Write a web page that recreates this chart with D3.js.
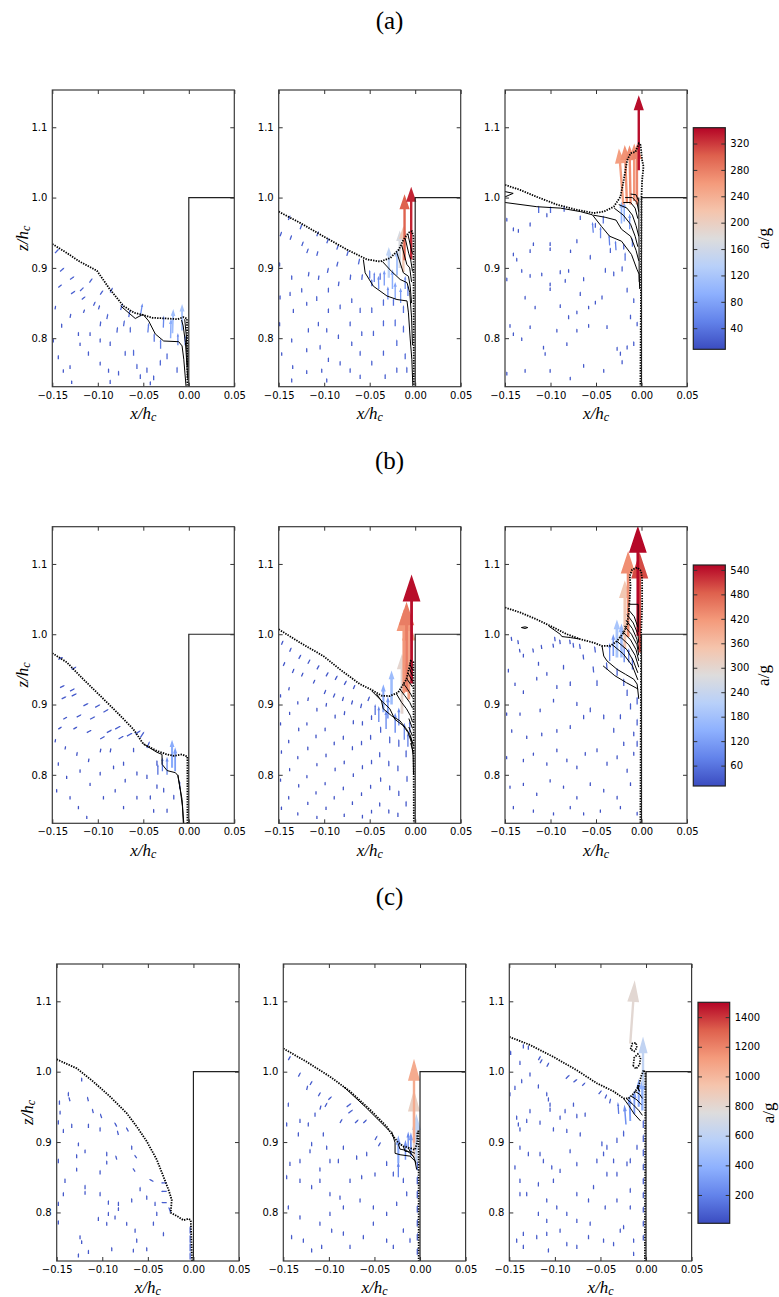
<!DOCTYPE html>
<html><head><meta charset="utf-8">
<script src="https://cdn.jsdelivr.net/npm/d3@7"></script>
<style>body{margin:0;background:#fff}</style>
</head><body>
<svg id="fig" width="779" height="1297" xmlns="http://www.w3.org/2000/svg"></svg>
<script>
// ---------------- shared axis data ----------------
const xTicks = [-0.15, -0.10, -0.05, 0.00, 0.05];
const zTicks = [0.8, 0.9, 1.0, 1.1];
const xDomain = [-0.15, 0.05];
const zDomain = [0.731, 1.153];
const rowTitles = ["(a)", "(b)", "(c)"];
const cbDomainA = [8, 344],  cbTicksA = [40, 80, 120, 160, 200, 240, 280, 320];
const cbDomainB = [10, 552], cbTicksB = [60, 120, 180, 240, 300, 360, 420, 480, 540];
const cbDomainC = [9, 1500], cbTicksC = [200, 400, 600, 800, 1000, 1200, 1400];
const stepWall = [[0.0, 0.731], [0.0, 1.0], [0.05, 1.0]];
const coolwarm = ["#3b4cc0","#6282ea","#8db0fe","#b8d0f9","#dddcdc","#f5c4ac","#f49a7b","#de604d","#b40426"];

// ---------------- row (a) ----------------
const surfA1 = [[-0.150,0.934],[-0.135,0.922],[-0.120,0.909],[-0.101,0.896],[-0.087,0.870],[-0.072,0.846],[-0.060,0.836],[-0.053,0.834],[-0.040,0.829],[-0.024,0.828],[-0.012,0.827],[-0.006,0.830],[-0.002,0.828],[-0.0015,0.731]];
const contA1 = [
 [[-0.075,0.846],[-0.0588,0.828],[-0.0504,0.834],[-0.0441,0.8245],[-0.0368,0.806],[-0.0276,0.796],[-0.0111,0.795],[-0.0074,0.789],[-0.0055,0.770],[-0.003,0.731]],
 [[-0.008,0.826],[-0.0062,0.8175],[-0.0037,0.794],[-0.0011,0.742]],
 [[-0.0045,0.827],[-0.0025,0.800],[-0.0015,0.760]]];
const vecA1 = [
 [-0.147,0.921,18,20],[-0.1415,0.895,20,17],[-0.1305,0.8835,20,14],[-0.1434,0.872,17,14],[-0.1294,0.863,20,14],[-0.1195,0.867,17,17],[-0.1092,0.879,14,20],[-0.1176,0.855,17,14],[-0.0974,0.862,14,20],[-0.0864,0.865,12,23],[-0.1048,0.846,9,20],[-0.0993,0.841,6,20],[-0.1158,0.836,6,17],[-0.1305,0.829,4,20],[-0.1397,0.815,0,20],[-0.147,0.841,3,17],[-0.1489,0.794,0,17],[-0.1434,0.770,0,20],[-0.1379,0.751,0,17],[-0.1305,0.756,0,20],[-0.1213,0.803,0,20],[-0.1195,0.789,0,17],[-0.1103,0.775,0,22],[-0.1085,0.803,0,20],[-0.0974,0.817,3,24],[-0.0901,0.827,5,26],[-0.0974,0.794,0,20],[-0.0864,0.789,0,22],[-0.0974,0.761,0,20],[-0.0882,0.751,0,20],[-0.0790,0.808,3,26],[-0.0717,0.817,4,28],[-0.0643,0.808,0,28],[-0.0607,0.775,0,30],[-0.0570,0.756,0,26],[-0.0533,0.742,0,24],[-0.0699,0.775,0,24],[-0.0772,0.747,0,22],[-0.0460,0.751,0,26],[-0.0386,0.740,0,24],[-0.0313,0.761,0,28],[-0.0239,0.770,0,30],[-0.0129,0.751,0,28],[-0.1287,0.735,0,17],[-0.0864,0.735,0,20],[-0.0423,0.733,0,20],
 [-0.075,0.840,10,32],[-0.066,0.830,6,34],[-0.045,0.808,4,45],[-0.038,0.795,0,40],[-0.031,0.785,0,45],[-0.028,0.815,2,55],[-0.012,0.790,0,55],[-0.004,0.790,0,45],
 [-0.0533,0.831,10,60],[-0.020,0.800,2,90],[-0.018,0.807,4,110],[-0.0074,0.811,0,120]];

const surfA2 = [[-0.150,0.980],[-0.1265,0.964],[-0.101,0.945],[-0.075,0.926],[-0.053,0.912],[-0.0385,0.909],[-0.0275,0.914],[-0.018,0.926],[-0.013,0.940],[-0.0074,0.950],[-0.0037,0.952],[-0.0019,0.945],[-0.0015,0.731]];
const contA2 = [
 [[-0.057,0.912],[-0.055,0.893],[-0.046,0.874],[-0.031,0.860],[-0.020,0.855],[-0.009,0.853],[-0.0074,0.836],[-0.0055,0.799],[-0.0037,0.770],[-0.0026,0.732]],
 [[-0.036,0.909],[-0.026,0.895],[-0.0165,0.8835],[-0.009,0.879],[-0.006,0.865],[-0.004,0.830],[-0.003,0.790]],
 [[-0.020,0.921],[-0.013,0.893],[-0.0074,0.888],[-0.0055,0.874],[-0.004,0.850]],
 [[-0.015,0.933],[-0.0092,0.905],[-0.006,0.900],[-0.004,0.880]],
 [[-0.011,0.942],[-0.007,0.920],[-0.005,0.912],[-0.003,0.895]],
 [[-0.008,0.948],[-0.005,0.930],[-0.003,0.920]]];
const vecA2 = [
 [-0.1485,0.945,8,22],[-0.149,0.902,0,20],[-0.1485,0.855,0,20],[-0.149,0.817,0,20],[-0.1467,0.775,0,17],[-0.1357,0.737,0,20],
 [-0.1394,0.968,9,22],[-0.1375,0.940,8,22],[-0.1357,0.883,0,22],[-0.1375,0.860,0,20],[-0.1339,0.836,0,20],[-0.1357,0.794,0,20],[-0.1346,0.756,0,20],
 [-0.1265,0.955,9,24],[-0.1247,0.931,8,22],[-0.1192,0.921,8,22],[-0.1174,0.888,3,22],[-0.1247,0.865,0,22],[-0.1192,0.846,0,20],[-0.1174,0.808,0,22],[-0.1192,0.780,0,20],[-0.1192,0.749,0,20],
 [-0.1082,0.945,9,24],[-0.1082,0.917,6,24],[-0.1064,0.883,3,22],[-0.1082,0.853,0,24],[-0.1064,0.817,0,22],[-0.1045,0.784,0,22],[-0.1027,0.751,0,20],
 [-0.0972,0.935,9,24],[-0.0965,0.893,5,24],[-0.0954,0.865,0,24],[-0.0954,0.836,0,22],[-0.0972,0.808,0,22],[-0.0954,0.766,0,22],[-0.0972,0.737,0,20],
 [-0.0862,0.926,9,26],[-0.0862,0.902,6,24],[-0.0844,0.874,3,24],[-0.0825,0.841,0,24],[-0.0844,0.799,0,22],[-0.0825,0.761,0,22],
 [-0.0752,0.917,8,26],[-0.0715,0.883,3,26],[-0.0697,0.850,0,24],[-0.0715,0.817,0,24],[-0.0697,0.789,0,22],[-0.0715,0.751,0,22],
 [-0.0624,0.905,6,28],[-0.0587,0.883,3,28],[-0.0605,0.836,0,26],[-0.0587,0.803,0,24],[-0.0605,0.775,0,24],[-0.0605,0.742,0,22],
 [-0.0477,0.874,0,32],[-0.0477,0.836,0,28],[-0.0459,0.803,0,26],[-0.0477,0.761,0,24],
 [-0.0385,0.883,0,34],[-0.0349,0.846,0,32],[-0.0349,0.817,0,30],[-0.0349,0.775,0,26],[-0.033,0.742,0,24],
 [-0.0239,0.846,0,36],[-0.022,0.817,0,34],[-0.0202,0.789,0,30],[-0.0202,0.751,0,26],
 [-0.0129,0.836,0,36],[-0.0129,0.808,0,34],[-0.011,0.770,0,30],[-0.0092,0.751,0,28],
 [-0.050,0.885,0,40],[-0.045,0.880,0,45],[-0.040,0.870,-2,60],[-0.034,0.875,0,70],[-0.030,0.855,0,60],[-0.022,0.855,0,80],[-0.016,0.850,0,70],[-0.011,0.870,0,60],[-0.008,0.860,0,50],[-0.025,0.870,0,90],
 [-0.020,0.889,0,120],[-0.029,0.886,0,140],[-0.017,0.900,0,170],[-0.013,0.894,0,210],[-0.0117,0.911,0,300],[-0.0044,0.912,0,330]];

const surfA3 = [[-0.150,1.018],[-0.1335,1.011],[-0.115,1.001],[-0.093,0.990],[-0.071,0.9825],[-0.0526,0.978],[-0.0415,0.980],[-0.0305,0.987],[-0.0232,1.001],[-0.0195,1.025],[-0.0158,1.053],[-0.0121,1.063],[-0.0066,1.065],[-0.0029,1.077],[-0.001,1.0745],[0.0007,1.053],[0.0022,1.044],[0.0007,1.025],[0.0,1.001],[-0.0012,0.731]];
const contA3 = [
 [[-0.150,1.0085],[-0.141,1.006],[-0.150,1.001]],
 [[-0.150,0.993],[-0.115,0.987],[-0.089,0.985],[-0.067,0.980],[-0.054,0.9755],[-0.044,0.959],[-0.035,0.945],[-0.022,0.938],[-0.011,0.919],[-0.005,0.898],[-0.0026,0.891],[-0.002,0.870]],
 [[-0.053,0.975],[-0.040,0.972],[-0.028,0.968],[-0.022,0.955],[-0.012,0.945],[-0.006,0.925],[-0.003,0.910]],
 [[-0.030,0.985],[-0.020,0.975],[-0.012,0.962],[-0.007,0.945],[-0.004,0.930]],
 [[-0.025,0.990],[-0.016,0.985],[-0.010,0.975],[-0.006,0.960],[-0.003,0.945]],
 [[-0.020,0.993],[-0.012,0.993],[-0.007,0.985],[-0.004,0.970]],
 [[-0.018,1.000],[-0.010,1.000],[-0.005,0.993],[-0.003,0.980]],
 [[-0.012,1.005],[-0.006,1.004],[-0.003,0.995]],
 [[-0.003,1.000],[-0.0025,0.880]]];
const vecA3 = [
 [-0.148,0.966,0,18],[-0.1408,0.952,0,20],[-0.1353,0.950,0,18],[-0.1224,0.959,0,20],[-0.1408,0.9165,0,18],[-0.1371,0.909,0,18],[-0.1224,0.921,0,20],[-0.1188,0.931,0,18],[-0.1004,0.931,0,20],[-0.1004,0.924,0,18],[-0.104,0.972,0,20],[-0.1316,0.893,0,18],[-0.1224,0.886,0,18],[-0.1096,0.888,0,18],[-0.0893,0.891,0,20],[-0.0801,0.893,0,18],[-0.1004,0.874,0,18],[-0.0838,0.879,0,18],[-0.0636,0.881,0,20],[-0.148,0.881,0,18],
 [-0.1445,0.815,0,18],[-0.1408,0.803,0,18],[-0.1316,0.796,0,18],[-0.1224,0.813,0,18],[-0.1169,0.841,0,18],[-0.1279,0.855,0,18],[-0.1004,0.867,0,18],[-0.0893,0.843,0,18],[-0.0801,0.827,0,20],[-0.0710,0.834,0,18],[-0.0673,0.860,0,20],[-0.0581,0.841,0,18],[-0.0507,0.848,0,18],[-0.0434,0.855,0,20],[-0.093,0.808,0,18],[-0.1077,0.784,0,18],[-0.1059,0.775,0,18],[-0.082,0.789,0,18],[-0.071,0.808,0,18],[-0.0581,0.815,0,18],[-0.0379,0.813,0,20],[-0.0636,0.758,0,18],[-0.0783,0.740,0,18],[-0.1004,0.751,0,18],[-0.1279,0.751,0,18],[-0.148,0.747,0,18],[-0.0268,0.782,0,20],[-0.0232,0.775,0,20],[-0.0158,0.784,0,20],[-0.0415,0.751,0,18],[-0.0213,0.763,0,20],[-0.0085,0.789,0,22],[-0.0121,0.827,0,22],[-0.0158,0.865,0,24],[-0.0213,0.895,0,26],[-0.0195,0.926,0,28],[-0.0085,0.850,0,24],[-0.0048,0.817,0,22],[-0.0397,0.893,0,24],[-0.0305,0.888,0,24],[-0.0342,0.921,0,26],[-0.0563,0.912,0,22],[-0.071,0.935,0,20],[-0.078,0.921,0,18],[-0.0673,0.968,0,22],[-0.0507,0.957,0,24],
 [-0.113,0.978,0,34],[-0.100,0.978,0,32],[-0.085,0.980,0,28],[-0.042,0.963,0,38],[-0.053,0.950,-4,50],[-0.045,0.942,0,55],[-0.035,0.932,-3,50],[-0.028,0.925,-3,45],[-0.018,0.910,0,40],[-0.010,0.930,0,40],[-0.013,0.955,0,70],[-0.019,0.966,0,90],[-0.022,0.963,0,100],
 [-0.020,0.990,-20,255],[-0.016,0.992,-10,265],[-0.012,0.990,-5,270],[-0.008,0.995,0,262],[-0.005,0.990,0,275],[-0.003,1.039,0,340]];

// ---------------- row (b) ----------------
const surfB1 = [[-0.150,0.973],[-0.134,0.960],[-0.116,0.936],[-0.097,0.912],[-0.079,0.889],[-0.061,0.865],[-0.050,0.844],[-0.035,0.834],[-0.024,0.829],[-0.0165,0.827],[-0.0074,0.829],[-0.0037,0.827],[-0.0015,0.826],[-0.0015,0.731]];
const contB1 = [
 [[-0.050,0.844],[-0.035,0.832],[-0.0294,0.829],[-0.0294,0.815],[-0.0239,0.806],[-0.0147,0.803],[-0.0121,0.799],[-0.0074,0.765],[-0.0055,0.731]],
 [[-0.012,0.800],[-0.0095,0.780],[-0.0070,0.755],[-0.0060,0.731]]];
const vecB1 = [
 [-0.1434,0.964,24,13],[-0.1287,0.950,24,13],[-0.1415,0.924,24,12],[-0.1305,0.919,24,13],[-0.1397,0.908,24,12],[-0.1287,0.912,26,13],[-0.1158,0.898,26,14],[-0.1029,0.896,26,14],[-0.1232,0.882,24,13],[-0.1085,0.879,26,14],[-0.0938,0.889,26,15],[-0.1379,0.879,20,12],[-0.1434,0.865,18,12],[-0.1268,0.865,20,12],[-0.1121,0.860,24,13],[-0.0901,0.860,26,14],[-0.0974,0.851,24,13],[-0.0809,0.865,28,16],[-0.0772,0.851,26,15],[-0.068,0.855,28,16],[-0.0588,0.858,28,18],[-0.0533,0.853,20,30],
 [-0.147,0.846,3,18],[-0.1434,0.813,0,18],[-0.1452,0.775,0,18],[-0.136,0.836,3,18],[-0.1342,0.794,0,18],[-0.1305,0.765,0,18],[-0.1232,0.827,3,20],[-0.1195,0.803,0,18],[-0.1213,0.751,0,18],[-0.1103,0.818,3,20],[-0.1085,0.784,0,18],[-0.1121,0.737,0,18],[-0.0974,0.832,4,20],[-0.0974,0.799,0,20],[-0.0938,0.765,0,18],[-0.0864,0.832,4,22],[-0.0827,0.808,0,20],[-0.0809,0.775,0,18],[-0.0717,0.813,0,22],[-0.0699,0.789,0,20],[-0.0717,0.751,0,18],[-0.0607,0.832,0,24],[-0.057,0.799,0,22],[-0.057,0.765,0,20],[-0.046,0.794,0,24],[-0.0423,0.765,0,22],[-0.0386,0.746,0,20],[-0.035,0.813,0,28],[-0.035,0.780,0,24],[-0.0276,0.775,0,24],[-0.0239,0.746,0,22],[-0.0165,0.765,0,24],
 [-0.046,0.838,14,34],[-0.010,0.780,0,40],[-0.034,0.800,0,55],[-0.029,0.805,0,70],[-0.0239,0.800,0,90],[-0.015,0.805,0,120],[-0.0184,0.810,0,140]];

const surfB2 = [[-0.150,1.007],[-0.1265,0.988],[-0.101,0.969],[-0.0827,0.950],[-0.0608,0.929],[-0.048,0.921],[-0.037,0.9125],[-0.028,0.912],[-0.0188,0.917],[-0.0096,0.936],[-0.0049,0.962],[-0.0019,0.960],[-0.0015,0.731]];
const contB2 = [
 [[-0.048,0.9196],[-0.0352,0.903],[-0.0279,0.894],[-0.0224,0.879],[-0.0133,0.870],[-0.0078,0.860],[-0.0041,0.846],[-0.0023,0.827],[-0.0018,0.800]],
 [[-0.0425,0.915],[-0.037,0.905],[-0.0352,0.894],[-0.026,0.884],[-0.0169,0.877],[-0.0096,0.865],[-0.0052,0.856],[-0.003,0.845]],
 [[-0.0205,0.915],[-0.015,0.903],[-0.0096,0.894],[-0.0052,0.884],[-0.003,0.875]],
 [[-0.0169,0.922],[-0.0114,0.9125],[-0.006,0.903],[-0.003,0.895]],
 [[-0.013,0.930],[-0.009,0.923],[-0.005,0.915],[-0.003,0.910]],
 [[-0.0095,0.937],[-0.003,0.925]],[[-0.008,0.945],[-0.003,0.933]],[[-0.0065,0.952],[-0.003,0.941]],[[-0.006,0.958],[-0.003,0.949]],
 [[-0.007,0.880],[-0.003,0.866]],[[-0.007,0.868],[-0.003,0.855]],[[-0.006,0.856],[-0.002,0.842]],[[-0.005,0.845],[-0.002,0.832]]];
const vecB2 = [
 [-0.147,0.985,9,22],[-0.138,0.975,9,22],[-0.128,0.965,12,22],[-0.118,0.958,12,22],[-0.108,0.950,12,22],[-0.098,0.940,12,22],[-0.088,0.935,12,22],[-0.078,0.928,12,22],[-0.068,0.922,9,22],[-0.145,0.955,9,20],[-0.135,0.945,9,22],[-0.125,0.940,9,20],[-0.112,0.930,9,20],[-0.100,0.915,9,22],[-0.090,0.910,9,22],[-0.080,0.905,6,22],[-0.070,0.900,6,22],[-0.060,0.895,6,24],[-0.052,0.905,9,24],
 [-0.148,0.910,0,18],[-0.148,0.870,0,18],[-0.147,0.830,0,18],[-0.148,0.790,0,18],[-0.147,0.750,0,18],
 [-0.139,0.920,3,18],[-0.138,0.885,0,18],[-0.139,0.845,0,18],[-0.138,0.805,0,18],[-0.139,0.765,0,18],
 [-0.129,0.900,0,18],[-0.128,0.862,0,20],[-0.129,0.822,0,18],[-0.128,0.782,0,18],[-0.129,0.742,0,18],
 [-0.118,0.905,3,20],[-0.119,0.870,0,18],[-0.118,0.835,0,20],[-0.119,0.795,0,18],[-0.118,0.757,0,18],
 [-0.108,0.890,0,20],[-0.109,0.852,0,20],[-0.108,0.812,0,18],[-0.109,0.772,0,18],[-0.108,0.737,0,18],
 [-0.098,0.897,3,20],[-0.099,0.862,0,20],[-0.098,0.825,0,20],[-0.099,0.785,0,18],[-0.098,0.750,0,18],
 [-0.088,0.880,0,22],[-0.089,0.842,0,20],[-0.088,0.805,0,20],[-0.089,0.765,0,18],
 [-0.078,0.885,3,22],[-0.079,0.850,0,22],[-0.078,0.815,0,20],[-0.079,0.778,0,20],[-0.078,0.740,0,18],
 [-0.068,0.872,0,22],[-0.069,0.835,0,22],[-0.068,0.797,0,20],[-0.069,0.757,0,20],
 [-0.058,0.870,0,24],[-0.059,0.842,0,24],[-0.058,0.808,0,22],[-0.059,0.770,0,20],[-0.058,0.738,0,20],
 [-0.048,0.878,0,26],[-0.049,0.850,0,26],[-0.048,0.815,0,24],[-0.049,0.780,0,22],[-0.048,0.745,0,20],
 [-0.038,0.860,0,32],[-0.039,0.825,0,28],[-0.038,0.790,0,24],[-0.039,0.755,0,22],
 [-0.028,0.845,0,36],[-0.029,0.812,0,30],[-0.028,0.778,0,26],[-0.029,0.745,0,22],
 [-0.018,0.840,0,38],[-0.019,0.805,0,32],[-0.018,0.770,0,28],[-0.019,0.740,0,24],
 [-0.010,0.825,0,38],[-0.009,0.790,0,32],[-0.010,0.755,0,28],
 [-0.044,0.885,0,55],[-0.040,0.875,0,80],[-0.032,0.865,0,95],[-0.030,0.880,0,110],[-0.022,0.860,0,100],[-0.018,0.870,0,90],[-0.012,0.850,0,85],[-0.008,0.840,0,70],[-0.006,0.860,0,60],
 [-0.035,0.889,0,140],[-0.026,0.900,0,170],[-0.0145,0.887,0,300],[-0.007,0.907,0,400],[-0.0125,0.916,0,420],[-0.0095,0.918,0,450],[-0.004,0.930,0,545]];

const surfB3 = [[-0.150,1.038],[-0.1335,1.031],[-0.115,1.021],[-0.1004,1.012],[-0.082,1.000],[-0.0673,0.993],[-0.0526,0.988],[-0.0434,0.9834],[-0.0342,0.9834],[-0.0268,0.9905],[-0.0195,1.0024],[-0.0158,1.014],[-0.014,1.031],[-0.0121,1.069],[-0.0129,1.083],[-0.0103,1.092],[-0.0048,1.095],[-0.0004,1.090],[0.0007,1.078],[0.0007,1.040],[-0.0004,1.002],[-0.0012,0.731]];
const contB3 = [
 [[-0.1022,1.0118],[-0.0893,1.000],[-0.0875,0.9967],[-0.0783,0.9953],[-0.0673,0.993]],
 [[-0.132,1.0095],[-0.128,1.0105],[-0.125,1.0095],[-0.128,1.0082],[-0.132,1.0095]],
 [[-0.0434,0.9834],[-0.0415,0.969],[-0.0379,0.962],[-0.0268,0.950],[-0.0176,0.943],[-0.0085,0.936],[-0.0048,0.929],[-0.003,0.908]],
 [[-0.0422,0.955],[-0.0293,0.941],[-0.0165,0.931],[-0.0037,0.922]],
 [[-0.032,0.985],[-0.020,0.972],[-0.010,0.955],[-0.004,0.935]],
 [[-0.027,0.990],[-0.016,0.978],[-0.009,0.962],[-0.004,0.945]],
 [[-0.024,0.997],[-0.014,0.985],[-0.007,0.970],[-0.003,0.953]],
 [[-0.021,1.004],[-0.012,0.992],[-0.006,0.978],[-0.003,0.962]],
 [[-0.019,1.012],[-0.011,1.000],[-0.005,0.985],[-0.003,0.970]],
 [[-0.017,1.020],[-0.010,1.008],[-0.005,0.993],[-0.003,0.978]],
 [[-0.016,1.028],[-0.009,1.016],[-0.004,1.000],[-0.003,0.988]],
 [[-0.015,1.036],[-0.008,1.025],[-0.004,1.010]],
 [[-0.0147,1.0426],[-0.0037,1.0426],[-0.0037,1.003]]];
const vecB3 = [
 [-0.1426,0.9905,-3,22],[-0.1353,0.986,-3,22],[-0.1335,0.974,-3,20],[-0.1298,0.967,0,20],[-0.1188,0.974,-3,22],[-0.1096,0.979,-3,22],[-0.0949,0.990,-3,24],[-0.0967,0.981,-3,22],[-0.0893,0.986,-3,24],[-0.0783,0.986,-3,24],[-0.0746,0.981,-3,26],[-0.0673,0.979,-4,28],[-0.0636,0.964,-3,28],[-0.0507,0.974,-4,32],[-0.0526,0.9455,-3,34],[-0.0489,0.9265,0,32],[-0.0379,0.950,-3,38],[-0.0268,0.941,0,40],[-0.0195,0.9265,0,38],[-0.0158,0.912,0,36],[-0.0121,0.893,0,34],
 [-0.1463,0.9455,0,20],[-0.139,0.9265,0,18],[-0.1298,0.915,0,20],[-0.1151,0.934,0,20],[-0.1132,0.955,0,22],[-0.104,0.941,0,20],[-0.093,0.922,0,22],[-0.0857,0.950,0,24],[-0.0783,0.9265,0,24],[-0.071,0.898,0,22],[-0.0967,0.903,0,20],[-0.1114,0.889,0,20],[-0.1335,0.884,0,18],[-0.1482,0.884,0,18],
 [-0.1426,0.860,0,18],[-0.1261,0.851,0,18],[-0.1096,0.855,0,20],[-0.093,0.860,0,20],[-0.0783,0.865,0,22],[-0.0636,0.879,0,24],[-0.0563,0.889,0,26],[-0.0415,0.879,0,26],[-0.0305,0.860,0,26],[-0.0232,0.879,0,28],[-0.0195,0.841,0,24],[-0.0085,0.855,0,24],
 [-0.1482,0.822,0,18],[-0.1298,0.818,0,18],[-0.1188,0.827,0,18],[-0.104,0.813,0,18],[-0.093,0.832,0,20],[-0.082,0.818,0,20],[-0.071,0.808,0,20],[-0.0618,0.827,0,20],[-0.0489,0.832,0,22],[-0.0379,0.813,0,22],[-0.0268,0.822,0,22],[-0.0158,0.803,0,22],[-0.0085,0.827,0,22],
 [-0.1445,0.780,0,18],[-0.1298,0.784,0,18],[-0.1151,0.770,0,18],[-0.1004,0.789,0,18],[-0.0857,0.780,0,18],[-0.071,0.765,0,18],[-0.0563,0.784,0,20],[-0.0415,0.775,0,20],[-0.0268,0.765,0,20],[-0.0121,0.784,0,20],
 [-0.1408,0.751,0,18],[-0.1188,0.746,0,18],[-0.0967,0.742,0,18],[-0.0783,0.751,0,18],[-0.0636,0.742,0,18],[-0.0452,0.746,0,18],[-0.0232,0.751,0,18],[-0.0048,0.742,0,20],
 [-0.0048,0.900,0,40],[-0.0048,0.870,0,35],[-0.0048,0.840,0,32],[-0.010,0.950,0,60],[-0.014,0.960,0,70],
 [-0.035,0.962,0,90],[-0.019,0.960,0,100],[-0.031,0.969,0,110],[-0.022,0.967,0,170],[-0.027,0.967,0,190],
 [-0.0183,0.980,0,340],[-0.0147,0.996,0,430],[-0.002,0.974,0,500],[-0.004,0.998,0,550]];

// ---------------- row (c) ----------------
const surfC1 = [[-0.150,1.0175],[-0.128,1.0047],[-0.1098,0.9858],[-0.0915,0.9646],[-0.0732,0.941],[-0.0622,0.922],[-0.0512,0.901],[-0.0402,0.875],[-0.0329,0.851],[-0.0274,0.8325],[-0.0238,0.818],[-0.0249,0.7995],[-0.0183,0.795],[-0.011,0.789],[-0.0055,0.791],[-0.0029,0.789],[-0.0015,0.731]];
const contC1 = [];
const vecC1 = [
 [-0.147,0.953,0,60],[-0.1463,0.939,0,55],[-0.1482,0.925,0,60],[-0.1427,0.913,0,55],[-0.1372,0.965,0,60],[-0.1354,0.958,-15,55],[-0.1335,0.920,0,60],[-0.1226,0.986,0,55],[-0.1152,0.958,-15,60],[-0.1098,0.941,-15,60],[-0.1152,0.920,0,60],[-0.1262,0.894,0,55],[-0.1189,0.884,0,55],[-0.1482,0.870,0,60],[-0.1281,0.877,0,55],[-0.1006,0.934,-20,60],[-0.1024,0.915,0,60],[-0.0841,0.922,-30,55],[-0.0823,0.910,-15,60],[-0.0713,0.915,-30,55],[-0.0677,0.889,0,60],[-0.0622,0.877,-30,45],[-0.0951,0.880,0,60],[-0.0951,0.868,0,55],[-0.0841,0.875,-15,55],[-0.064,0.858,-30,45],[-0.1024,0.854,0,60],[-0.1281,0.858,0,55],[-0.1409,0.842,0,60],[-0.1427,0.823,0,55],[-0.1482,0.809,0,60],[-0.1482,0.783,0,55],[-0.1189,0.833,0,60],[-0.1189,0.825,0,55],[-0.1024,0.823,0,60],[-0.0933,0.811,0,60],[-0.0933,0.795,0,55],[-0.1043,0.788,0,55],[-0.0823,0.809,0,60],[-0.0823,0.802,0,55],[-0.086,0.790,0,55],[-0.0585,0.830,0,60],[-0.0439,0.844,-55,30],[-0.0421,0.809,0,60],[-0.0512,0.818,0,60],[-0.0402,0.795,0,60],[-0.0293,0.842,-75,0],[-0.0293,0.830,-75,0],[-0.0293,0.814,-70,0],[-0.0439,0.781,0,60],[-0.064,0.771,0,60],[-0.0622,0.757,0,60],[-0.0659,0.743,0,55],[-0.0512,0.745,0,55],[-0.0329,0.766,0,60],[-0.1244,0.762,0,55],[-0.1226,0.755,0,55],[-0.1152,0.741,0,55],[-0.1262,0.736,0,55],[-0.0896,0.745,0,55],[-0.0951,0.781,0,55],[-0.0677,0.814,0,60],[-0.0732,0.781,0,55],
 [-0.025,0.800,-25,70],[-0.0036,0.770,0,100],[-0.0036,0.757,0,110],[-0.0036,0.745,0,110],[-0.0036,0.733,0,100]];

const surfC2 = [[-0.150,1.033],[-0.1244,1.014],[-0.0988,0.993],[-0.0768,0.972],[-0.0549,0.946],[-0.0366,0.922],[-0.0293,0.908],[-0.0238,0.899],[-0.0183,0.894],[-0.011,0.8915],[-0.0055,0.889],[-0.003,0.900],[-0.0029,0.915],[-0.0015,0.915],[-0.0015,0.731]];
const contC2 = [
 [[-0.0841,0.979],[-0.060,0.950],[-0.0329,0.915]],
 [[-0.0311,0.915],[-0.0274,0.899],[-0.0274,0.884],[-0.0219,0.882],[-0.011,0.880],[-0.0055,0.873],[-0.0037,0.861]],
 [[-0.0238,0.897],[-0.022,0.890],[-0.0146,0.888],[-0.0073,0.880],[-0.0044,0.870]],
 [[-0.0183,0.894],[-0.0165,0.887],[-0.011,0.886],[-0.0066,0.878]],
 [[-0.0128,0.8915],[-0.011,0.887],[-0.0055,0.884]]];
const vecC2 = [
 [-0.1445,1.0165,30,55],[-0.1335,0.993,30,55],[-0.1207,0.981,30,55],[-0.1244,0.974,15,60],[-0.1116,0.965,30,55],[-0.1006,0.960,45,45],[-0.1043,0.950,30,55],[-0.1098,0.946,15,60],[-0.1152,0.936,0,60],[-0.1445,0.950,0,60],[-0.1463,0.922,0,60],[-0.1317,0.927,0,60],[-0.1226,0.922,0,60],[-0.1335,0.908,0,60],[-0.1189,0.894,0,60],[-0.1207,0.884,0,60],[-0.1061,0.908,0,60],[-0.1024,0.889,0,60],[-0.0878,0.927,30,55],[-0.0786,0.941,60,45],[-0.0805,0.950,60,45],[-0.0713,0.927,45,45],[-0.0622,0.927,45,45],[-0.0494,0.903,30,55],[-0.0457,0.894,30,55],[-0.0585,0.880,0,60],[-0.0695,0.875,0,60],[-0.0841,0.889,0,60],[-0.0896,0.870,0,60],[-0.0988,0.870,0,60],[-0.1098,0.858,0,60],[-0.1317,0.870,0,60],[-0.1427,0.866,0,60],[-0.1463,0.847,0,60],[-0.1317,0.842,0,60],[-0.1189,0.833,0,60],[-0.1098,0.842,0,60],[-0.0988,0.823,0,60],[-0.0878,0.818,0,60],[-0.0768,0.842,0,60],[-0.064,0.847,0,60],[-0.0494,0.851,0,60],[-0.0366,0.866,0,70],[-0.0293,0.851,0,70],[-0.0183,0.842,0,70],[-0.0146,0.823,0,70],[-0.0256,0.809,0,65],[-0.0366,0.795,0,60],[-0.0512,0.804,0,60],[-0.0658,0.814,0,60],[-0.0841,0.804,0,60],[-0.0988,0.795,0,60],[-0.1098,0.781,0,60],[-0.1317,0.790,0,60],[-0.1445,0.804,0,60],[-0.1409,0.762,0,60],[-0.128,0.757,0,60],[-0.1189,0.743,0,60],[-0.1079,0.748,0,60],[-0.0969,0.771,0,60],[-0.0841,0.767,0,60],[-0.0768,0.748,0,60],[-0.0622,0.762,0,60],[-0.0512,0.781,0,60],[-0.0366,0.757,0,60],[-0.0293,0.748,0,60],[-0.0183,0.771,0,65],[-0.011,0.757,0,65],
 [-0.003,0.860,0,120],[-0.003,0.840,0,110],[-0.003,0.820,0,110],[-0.003,0.800,0,100],[-0.003,0.780,0,100],[-0.003,0.760,0,100],[-0.003,0.740,0,90],
 [-0.0238,0.850,0,200],[-0.0238,0.870,0,350],[-0.016,0.875,0,250],[-0.010,0.880,0,300],[-0.013,0.89,0,220],
 [-0.004,0.872,0,600],[-0.0066,0.878,0,850],[-0.0066,0.899,0,1050]];

const surfC3 = [[-0.150,1.0495],[-0.1273,1.038],[-0.1016,1.021],[-0.0759,1.002],[-0.0539,0.9835],[-0.0356,0.972],[-0.0246,0.962],[-0.0191,0.962],[-0.0136,0.969],[-0.0081,0.979],[-0.0055,0.993],[-0.0026,1.0024],[-0.0007,0.998],[-0.0012,0.731]];
const loopsC3 = [
 [[-0.017,1.032],[-0.015,1.040],[-0.011,1.041],[-0.010,1.034],[-0.013,1.029],[-0.017,1.032]],
 [[-0.014,1.008],[-0.013,1.020],[-0.009,1.025],[-0.006,1.020],[-0.007,1.010],[-0.011,1.004],[-0.014,1.008]]];
const contC3 = [
 [[-0.0246,0.962],[-0.019,0.952],[-0.013,0.940],[-0.006,0.930]],
 [[-0.021,0.961],[-0.014,0.953],[-0.008,0.945],[-0.004,0.938]],
 [[-0.016,0.965],[-0.010,0.960],[-0.005,0.953]],
 [[-0.012,0.972],[-0.007,0.968],[-0.004,0.962]],
 [[-0.009,0.981],[-0.008,0.975],[-0.007,0.972],[-0.009,0.976],[-0.009,0.981]]];
const vecC3 = [
 [-0.1485,1.0236,0,60],[-0.1346,1.033,0,60],[-0.1291,1.031,0,60],[-0.1181,1.0165,30,55],[-0.1163,1.012,30,55],[-0.1089,1.007,30,55],[-0.1383,1.0094,0,60],[-0.1273,0.993,0,60],[-0.1181,0.976,0,60],[-0.1089,0.965,0,60],[-0.1071,0.9575,0,60],[-0.1053,0.950,0,60],[-0.1364,0.9835,0,60],[-0.1438,0.974,0,60],[-0.1493,0.965,0,60],[-0.1273,0.941,0,60],[-0.1309,0.927,0,60],[-0.1419,0.9316,0,60],[-0.1401,0.922,0,60],[-0.1383,0.915,0,60],[-0.1163,0.9245,0,60],[-0.1053,0.943,0,60],[-0.1016,0.915,0,60],[-0.0943,0.9316,0,60],[-0.0888,0.941,0,60],[-0.0796,0.950,0,60],[-0.0759,0.934,0,60],[-0.0668,0.936,0,60],[-0.0869,0.9127,0,60],[-0.0722,0.908,0,60],[-0.1383,0.889,0,60],[-0.1291,0.880,0,60],[-0.1163,0.880,0,60],[-0.1126,0.870,0,60],[-0.1034,0.861,0,60],[-0.0943,0.856,0,60],[-0.0833,0.884,0,60],[-0.0759,0.8656,0,60],[-0.1016,0.842,0,60],[-0.1438,0.861,0,60],[-0.1383,0.842,0,60],[-0.1383,0.823,0,60],[-0.1309,0.823,0,60],[-0.1181,0.837,0,60],[-0.1089,0.814,0,60],[-0.1181,0.795,0,60],[-0.1089,0.785,0,60],[-0.0979,0.804,0,60],[-0.0869,0.795,0,60],[-0.0759,0.823,0,60],[-0.0631,0.814,0,60],[-0.0576,0.833,0,60],[-0.0539,0.870,0,65],[-0.0466,0.880,0,65],[-0.0429,0.851,0,65],[-0.0356,0.870,0,65],[-0.0319,0.851,0,65],[-0.0209,0.8656,0,70],[-0.0173,0.870,0,70],[-0.0099,0.889,0,70],[-0.0173,0.828,0,65],[-0.0319,0.814,0,60],[-0.0448,0.804,0,60],[-0.0613,0.781,0,60],[-0.0759,0.785,0,60],[-0.0943,0.771,0,60],[-0.1089,0.7665,0,60],[-0.1346,0.7665,0,60],[-0.1419,0.757,0,60],[-0.1346,0.748,0,60],[-0.1199,0.762,0,60],[-0.1071,0.743,0,60],[-0.0869,0.752,0,60],[-0.0759,0.748,0,60],[-0.0631,0.762,0,60],[-0.0466,0.757,0,60],[-0.0356,0.752,0,60],[-0.0283,0.771,0,60],[-0.0136,0.757,0,60],[-0.0136,0.738,0,60],[-0.0173,0.804,0,60],[-0.0246,0.776,0,60],[-0.0484,0.894,0,70],[-0.0429,0.889,0,70],[-0.0319,0.8986,0,75],[-0.0246,0.908,0,80],
 [-0.088,0.990,50,50],[-0.0796,0.985,50,40],[-0.070,0.980,40,40],[-0.052,0.968,40,50],[-0.045,0.962,25,55],[-0.040,0.955,15,65],
 [-0.003,0.920,0,110],[-0.003,0.900,0,100],[-0.003,0.880,0,100],[-0.003,0.860,0,90],[-0.003,0.840,0,90],[-0.003,0.820,0,90],[-0.003,0.800,0,80],[-0.003,0.780,0,80],[-0.003,0.760,0,80],
 [-0.030,0.940,-10,150],[-0.022,0.925,-20,250],[-0.0173,0.930,-10,320],[-0.0128,0.940,0,300],[-0.008,0.950,0,350],[-0.004,0.945,0,400],
 [-0.0033,0.980,0,615],[-0.0173,1.040,56,790]];

// ---------------- layout (styles only) ----------------
const rows = [
 {top:90, bottom:386.7, lefts:[52.3,278.7,505], w:182, titleY:20, xlabY:413,
  cb:{x:693.3,y:127.7,w:32,h:221.6,lx:763, dom:cbDomainA, ticks:cbTicksA},
  scale:0.22, hf:0.28, hmax:15, wr:0.68, sw:2.4,
  panels:[{s:surfA1,c:contA1,v:vecA1},{s:surfA2,c:contA2,v:vecA2},{s:surfA3,c:contA3,v:vecA3}]},
 {top:526.7, bottom:823.3, lefts:[52.3,278.7,505], w:182, titleY:460, xlabY:850,
  cb:{x:693.3,y:565,w:32,h:221,lx:763, dom:cbDomainB, ticks:cbTicksB},
  scale:0.2, hf:0.26, hmax:27, wr:0.66, sw:2.8,
  panels:[{s:surfB1,c:contB1,v:vecB1},{s:surfB2,c:contB2,v:vecB2},{s:surfB3,c:contB3,v:vecB3}]},
 {top:964, bottom:1261, lefts:[56.7,283.3,509.3], w:182.3, titleY:896, xlabY:1287,
  cb:{x:698,y:1002.3,w:31.7,h:221,lx:768, dom:cbDomainC, ticks:cbTicksC},
  scale:0.08, hf:0.34, hmax:22, wr:0.55, sw:2.4,
  panels:[{s:surfC1,c:contC1,v:vecC1},{s:surfC2,c:contC2,v:vecC2},{s:surfC3,c:contC3,v:vecC3,loops:loopsC3}]}
];

const svg = d3.select('#fig');
const cwScale = d3.scaleLinear().domain(coolwarm.map((c,i)=>i/(coolwarm.length-1))).range(coolwarm).interpolate(d3.interpolateRgb).clamp(true);

const defs = svg.append('defs');
const grad = defs.append('linearGradient').attr('id','cwgrad').attr('x1',0).attr('y1',1).attr('x2',0).attr('y2',0);
coolwarm.forEach((c,i)=>grad.append('stop').attr('offset',i/(coolwarm.length-1)).attr('stop-color',c));

const tickFmtX = d3.format('.2f');
const tickFmtZ = d3.format('.1f');
const FONT = "'DejaVu Sans', sans-serif";
const SERIF = "'Liberation Serif','DejaVu Serif',serif";

function arrowPts(x0,y0,dx,dy,p){
  const L = Math.hypot(dx,dy);
  if (L < 0.4) return null;
  const sw = Math.max(1.3, Math.min(p.sw, L*0.075));
  const hl = Math.min(p.hmax, L*p.hf);
  const hw = Math.max(hl*p.wr, sw*1.25);
  const ux=dx/L, uy=dy/L, nx=-uy, ny=ux;
  const bx=x0+ux*(L-hl), by=y0+uy*(L-hl);
  const tx=x0+dx, ty=y0+dy;
  return [[x0+nx*sw/2,y0+ny*sw/2],[bx+nx*sw/2,by+ny*sw/2],[bx+nx*hw/2,by+ny*hw/2],[tx,ty],
          [bx-nx*hw/2,by-ny*hw/2],[bx-nx*sw/2,by-ny*sw/2],[x0-nx*sw/2,y0-ny*sw/2]];
}

rows.forEach((row,ri)=>{
  svg.append('text').attr('x',389.5).attr('y',row.titleY).attr('text-anchor','middle')
     .attr('dominant-baseline','central').style('font-family',SERIF).style('font-size','25px')
     .text(rowTitles[ri]);
  const colorT = d3.scaleLinear().domain(row.cb.dom).range([0,1]);
  row.panels.forEach((pn,pi)=>{
    const left=row.lefts[pi], right=left+row.w;
    const x = d3.scaleLinear().domain(xDomain).range([left,right]);
    const z = d3.scaleLinear().domain(zDomain).range([row.bottom,row.top]);
    const cid = `clip${ri}${pi}`;
    defs.append('clipPath').attr('id',cid).append('rect')
      .attr('x',left).attr('y',row.top).attr('width',row.w).attr('height',row.bottom-row.top);
    const g = svg.append('g').attr('clip-path',`url(#${cid})`);
    const line = d3.line().x(d=>x(d[0])).y(d=>z(d[1]));
    const vs = pn.v.slice().sort((a,b)=>Math.hypot(a[2],a[3])-Math.hypot(b[2],b[3]));
    vs.forEach(v=>{
      const mag=Math.hypot(v[2],v[3]);
      const pts=arrowPts(x(v[0]),z(v[1]),v[2]*row.scale,-v[3]*row.scale,row);
      if(!pts) return;
      g.append('path').attr('d',d3.line()(pts)+'Z').attr('fill',cwScale(colorT(mag))).attr('stroke','none');
    });
    pn.c.forEach(c=>g.append('path').attr('d',line(c)).attr('fill','none').attr('stroke','#000').attr('stroke-width',1));
    g.append('path').attr('d',line(pn.s)).attr('fill','none').attr('stroke','#000')
      .attr('stroke-width',1.8).attr('stroke-dasharray','1.4,1.2');
    (pn.loops||[]).forEach(l=>g.append('path').attr('d',line(l)).attr('fill','none').attr('stroke','#000')
      .attr('stroke-width',1.7).attr('stroke-dasharray','1.4,1.2'));
    g.append('path').attr('d',line(stepWall)).attr('fill','none').attr('stroke','#222').attr('stroke-width',1.2);
    const ax = svg.append('g');
    const aB = ax.append('g').attr('transform',`translate(0,${row.bottom})`)
      .call(d3.axisBottom(x).tickValues(xTicks).tickSizeInner(-4).tickSizeOuter(0).tickPadding(5).tickFormat(tickFmtX));
    const aT = ax.append('g').attr('transform',`translate(0,${row.top})`)
      .call(d3.axisTop(x).tickValues(xTicks).tickSizeInner(-4).tickSizeOuter(0).tickFormat(''));
    const aL = ax.append('g').attr('transform',`translate(${left},0)`)
      .call(d3.axisLeft(z).tickValues(zTicks).tickSizeInner(-4).tickSizeOuter(0).tickPadding(5).tickFormat(tickFmtZ));
    const aR = ax.append('g').attr('transform',`translate(${right},0)`)
      .call(d3.axisRight(z).tickValues(zTicks).tickSizeInner(-4).tickSizeOuter(0).tickFormat(''));
    [aB,aT,aL,aR].forEach(a=>{a.select('.domain').remove(); a.selectAll('line').attr('stroke','#333');
      a.selectAll('text').attr('fill','#000').style('font-family',FONT).style('font-size','10px');});
    ax.append('rect').attr('x',left).attr('y',row.top).attr('width',row.w).attr('height',row.bottom-row.top)
      .attr('fill','none').attr('stroke','#3a3a3a').attr('stroke-width',1.2);
    const xl = svg.append('text').attr('x',(left+right)/2).attr('y',row.xlabY).attr('text-anchor','middle')
      .attr('dominant-baseline','central').style('font-family',SERIF).style('font-size','17px').style('font-style','italic');
    xl.append('tspan').text('x/h');
    xl.append('tspan').attr('dy',4).style('font-size','12px').text('c');
    if(pi===0){
      const cy=(row.top+row.bottom)/2, cx=left-30;
      const yl = svg.append('text').attr('transform',`translate(${cx},${cy}) rotate(-90)`).attr('text-anchor','middle')
        .attr('dominant-baseline','central').style('font-family',SERIF).style('font-size','17px').style('font-style','italic');
      yl.append('tspan').text('z/h');
      yl.append('tspan').attr('dy',4).style('font-size','12px').text('c');
    }
  });
  const cb=row.cb;
  svg.append('rect').attr('x',cb.x).attr('y',cb.y).attr('width',cb.w).attr('height',cb.h).attr('fill','url(#cwgrad)');
  const cs = d3.scaleLinear().domain(cb.dom).range([cb.y+cb.h,cb.y]);
  const ca = svg.append('g').attr('transform',`translate(${cb.x+cb.w},0)`)
    .call(d3.axisRight(cs).tickValues(cb.ticks).tickSizeInner(-4).tickSizeOuter(0).tickPadding(5).tickFormat(d3.format('d')));
  ca.select('.domain').remove(); ca.selectAll('line').attr('stroke','#333');
  ca.selectAll('text').attr('fill','#000').style('font-family',FONT).style('font-size','10px');
  const cl = svg.append('g').attr('transform',`translate(${cb.x},0)`)
    .call(d3.axisLeft(cs).tickValues(cb.ticks).tickSizeInner(-4).tickSizeOuter(0).tickFormat(''));
  cl.select('.domain').remove(); cl.selectAll('line').attr('stroke','#333');
  svg.append('rect').attr('x',cb.x).attr('y',cb.y).attr('width',cb.w).attr('height',cb.h)
    .attr('fill','none').attr('stroke','#222').attr('stroke-width',1.2);
  svg.append('text').attr('transform',`translate(${cb.lx},${cb.y+cb.h/2}) rotate(-90)`).attr('text-anchor','middle')
    .attr('dominant-baseline','central').style('font-family',SERIF).style('font-size','17px').text('a/g');
});
</script>
</body></html>
